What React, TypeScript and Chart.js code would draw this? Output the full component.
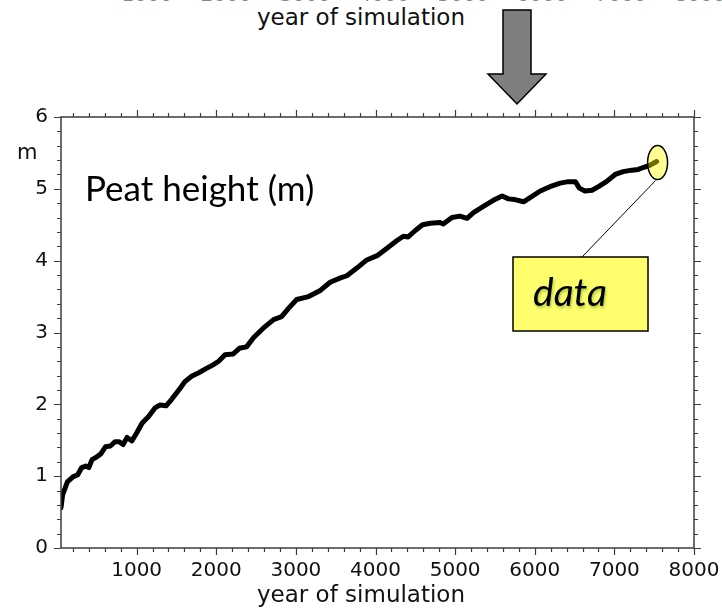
import React, { useEffect, useRef } from "react";
import { Chart, registerables } from "chart.js";

Chart.register(...registerables);

// ---- data ----
const years = [
  50, 70, 130, 200, 260, 310, 360, 400, 440, 500, 550, 610, 670, 730, 780, 830, 880, 940, 1000,
  1070, 1150, 1230, 1290, 1370, 1440, 1530, 1610, 1690, 1780, 1860, 1960, 2030, 2110, 2210, 2290,
  2380, 2470, 2590, 2720, 2820, 2910, 3010, 3160, 3300, 3430, 3560, 3640, 3770, 3890, 4020, 4140,
  4270, 4350, 4410, 4500, 4590, 4690, 4810, 4850, 4960, 5060, 5150, 5230, 5360, 5480, 5590, 5670,
  5750, 5860, 5960, 6070, 6190, 6320, 6420, 6510, 6560, 6630, 6720, 6800, 6900, 7010, 7110, 7220,
  7300, 7370, 7450, 7530,
];
const peatHeight = [
  0.56, 0.74, 0.92, 0.99, 1.02, 1.12, 1.14, 1.12, 1.23, 1.27, 1.31, 1.41, 1.42, 1.48, 1.48, 1.44,
  1.54, 1.49, 1.6, 1.74, 1.83, 1.95, 1.99, 1.98, 2.07, 2.2, 2.32, 2.39, 2.44, 2.49, 2.55, 2.6, 2.69,
  2.7, 2.78, 2.8, 2.93, 3.06, 3.18, 3.22, 3.34, 3.46, 3.5, 3.58, 3.7, 3.76, 3.79, 3.9, 4.01, 4.07,
  4.17, 4.28, 4.34, 4.33, 4.42, 4.5, 4.52, 4.53, 4.51, 4.6, 4.62, 4.59, 4.67, 4.76, 4.84, 4.9, 4.86,
  4.85, 4.82, 4.89, 4.97, 5.03, 5.08, 5.1, 5.1, 5.01, 4.97, 4.98, 5.03, 5.1, 5.2, 5.24, 5.26, 5.27,
  5.3, 5.33, 5.38,
];
const xTickLabels = [1000, 2000, 3000, 4000, 5000, 6000, 7000, 8000];
const yTickLabels = [0, 1, 2, 3, 4, 5, 6];
const xMin = 50;
const xMax = 8000;
const yMin = 0;
const yMax = 6;
const xMinorStep = 200;
const yMinorStep = 0.2;
const titleText = "year of simulation";
const unitText = "m";
const panelText = "Peat height (m)";
const calloutText = "data";
// annotated point (last value)
const annotYear = years[years.length - 1];
const annotValue = peatHeight[peatHeight.length - 1];

const TICK_FONT = "'DejaVu Sans', Verdana, sans-serif";

const framePlugin = {
  id: "frameTicks",
  afterDraw(chart: any) {
    const { ctx, chartArea: a, scales } = chart;
    const xs = scales.x;
    const ys = scales.y;
    ctx.save();
    ctx.strokeStyle = "#3c3c3c";
    ctx.lineWidth = 1.5;
    ctx.strokeRect(a.left, a.top, a.right - a.left, a.bottom - a.top);
    ctx.lineWidth = 1.2;
    ctx.beginPath();
    const nx = Math.round(xMax / xMinorStep);
    for (let i = 1; i <= nx; i++) {
      const v = i * xMinorStep;
      if (v < xMin) continue;
      const px = Math.round(xs.getPixelForValue(v)) + 0.5;
      const len = v % 1000 === 0 ? 7 : 4;
      ctx.moveTo(px, a.bottom);
      ctx.lineTo(px, a.bottom + len);
      ctx.moveTo(px, a.top);
      ctx.lineTo(px, a.top - len);
    }
    const ny = Math.round((yMax - yMin) / yMinorStep);
    for (let i = 0; i <= ny; i++) {
      const v = yMin + i * yMinorStep;
      const py = Math.round(ys.getPixelForValue(v)) + 0.5;
      const len = i % 5 === 0 ? 7 : 4;
      ctx.moveTo(a.left, py);
      ctx.lineTo(a.left - len, py);
      ctx.moveTo(a.right, py);
      ctx.lineTo(a.right + len, py);
    }
    ctx.stroke();
    ctx.restore();
  },
};

export default function App() {
  const canvasRef = useRef<HTMLCanvasElement | null>(null);
  const svgRef = useRef<SVGSVGElement | null>(null);

  useEffect(() => {
    if (!canvasRef.current) return;
    const chart = new Chart(canvasRef.current, {
      type: "line",
      data: {
        datasets: [
          {
            label: panelText,
            data: years.map((x, i) => ({ x, y: peatHeight[i] })),
            borderColor: "#000",
            borderWidth: 5,
            pointRadius: 0,
            tension: 0,
            fill: false,
            borderJoinStyle: "round",
            borderCapStyle: "round",
          },
        ],
      },
      options: {
        animation: false,
        responsive: false,
        layout: { padding: { left: 0, right: 28, top: 117, bottom: 0 } },
        plugins: { legend: { display: false }, tooltip: { enabled: false } },
        scales: {
          x: {
            type: "linear",
            min: xMin,
            max: xMax,
            afterBuildTicks: (s: any) => {
              s.ticks = xTickLabels.map((v) => ({ value: v }));
            },
            afterFit: (s: any) => {
              s.height = 62;
              s.paddingLeft = 0;
              s.paddingRight = 0;
            },
            grid: { display: false, drawTicks: false },
            border: { display: false },
            ticks: {
              font: { family: TICK_FONT, size: 20 },
              color: "#111",
              padding: 11,
              maxRotation: 0,
              autoSkip: false,
              callback: (v: any) => String(v),
            },
            title: { display: false },
          },
          y: {
            type: "linear",
            min: yMin,
            max: yMax,
            afterBuildTicks: (s: any) => {
              s.ticks = yTickLabels.map((v) => ({ value: v }));
            },
            afterFit: (s: any) => {
              s.width = 61;
              s.paddingTop = 0;
              s.paddingBottom = 0;
            },
            grid: { display: false, drawTicks: false },
            border: { display: false },
            ticks: {
              font: { family: TICK_FONT, size: 20 },
              color: "#111",
              padding: 13,
              callback: (v: any) => String(v),
            },
          },
        },
      },
      plugins: [framePlugin],
    } as any);

    // place annotation ellipse at the last data point through the chart's scales
    const svg = svgRef.current;
    if (svg) {
      const cx = chart.scales.x.getPixelForValue(annotYear) + 1;
      const cy = chart.scales.y.getPixelForValue(annotValue) + 1;
      const ell = svg.querySelector("#annEllipse");
      const ln = svg.querySelector("#annLine");
      if (ell) {
        ell.setAttribute("cx", String(cx));
        ell.setAttribute("cy", String(cy));
      }
      if (ln) {
        ln.setAttribute("x1", String(cx - 2));
        ln.setAttribute("y1", String(cy + 18));
      }
    }
    return () => chart.destroy();
  }, []);

  const topLabels = xTickLabels.map((v, i) => (
    <span
      key={v}
      style={{
        position: "absolute",
        left: 147 + 79 * i,
        top: -18,
        transform: "translateX(-50%)",
        fontFamily: TICK_FONT,
        fontSize: 20,
        color: "#888",
        lineHeight: "24px",
      }}
    >
      {v}
    </span>
  ));

  const titleStyle: React.CSSProperties = {
    position: "absolute",
    left: 0,
    width: 722,
    textAlign: "center",
    fontFamily: TICK_FONT,
    fontSize: 23,
    color: "#111",
    lineHeight: "27px",
    whiteSpace: "nowrap",
  };

  return (
    <div
      style={{
        position: "absolute",
        left: 0,
        top: 0,
        width: 722,
        height: 610,
        background: "#fff",
        overflow: "hidden",
      }}
    >
      <div style={{ position: "absolute", left: 0, top: 0, width: 722, height: 4, overflow: "hidden" }}>
        {topLabels}
      </div>
      <div style={{ ...titleStyle, top: 4 }}>{titleText}</div>
      <canvas ref={canvasRef} width={722} height={610} style={{ position: "absolute", left: 0, top: 0 }} />
      <div style={{ ...titleStyle, top: 581 }}>{titleText}</div>
      <div
        style={{
          position: "absolute",
          left: 17,
          top: 139,
          fontFamily: TICK_FONT,
          fontSize: 21,
          color: "#111",
          lineHeight: "26px",
        }}
      >
        {unitText}
      </div>
      <div
        style={{
          position: "absolute",
          left: 85,
          top: 166,
          fontFamily: "Lato, 'Open Sans', sans-serif",
          fontSize: 35,
          color: "#000",
          lineHeight: "42px",
          whiteSpace: "nowrap",
        }}
      >
        {panelText}
      </div>
      <svg
        ref={svgRef}
        width={722}
        height={610}
        style={{ position: "absolute", left: 0, top: 0, pointerEvents: "none" }}
      >
        {/* down arrow */}
        <polygon
          points="503,10 531,10 531,74 546,74 517,104 488,74 503,74"
          fill="#7f7f7f"
          stroke="#000"
          strokeWidth={1.5}
          strokeLinejoin="miter"
        />
        <line id="annLine" x1={655} y1={180} x2={582} y2={257} stroke="#000" strokeWidth={1} />
        <rect x={513} y={257} width={135} height={74} fill="#ffff6e" stroke="#000" strokeWidth={1.5} />
        <ellipse
          id="annEllipse"
          cx={657}
          cy={162}
          rx={10}
          ry={17}
          fill="rgba(255,255,0,0.42)"
          stroke="#000"
          strokeWidth={1.5}
        />
      </svg>
      <div
        style={{
          position: "absolute",
          left: 533,
          top: 268,
          fontFamily: "Lato, 'Open Sans', sans-serif",
          fontStyle: "italic",
          fontSize: 39,
          color: "#000",
          lineHeight: "46px",
          textShadow: "1px 2px 3px rgba(60,120,0,0.45)",
        }}
      >
        {calloutText}
      </div>
    </div>
  );
}
